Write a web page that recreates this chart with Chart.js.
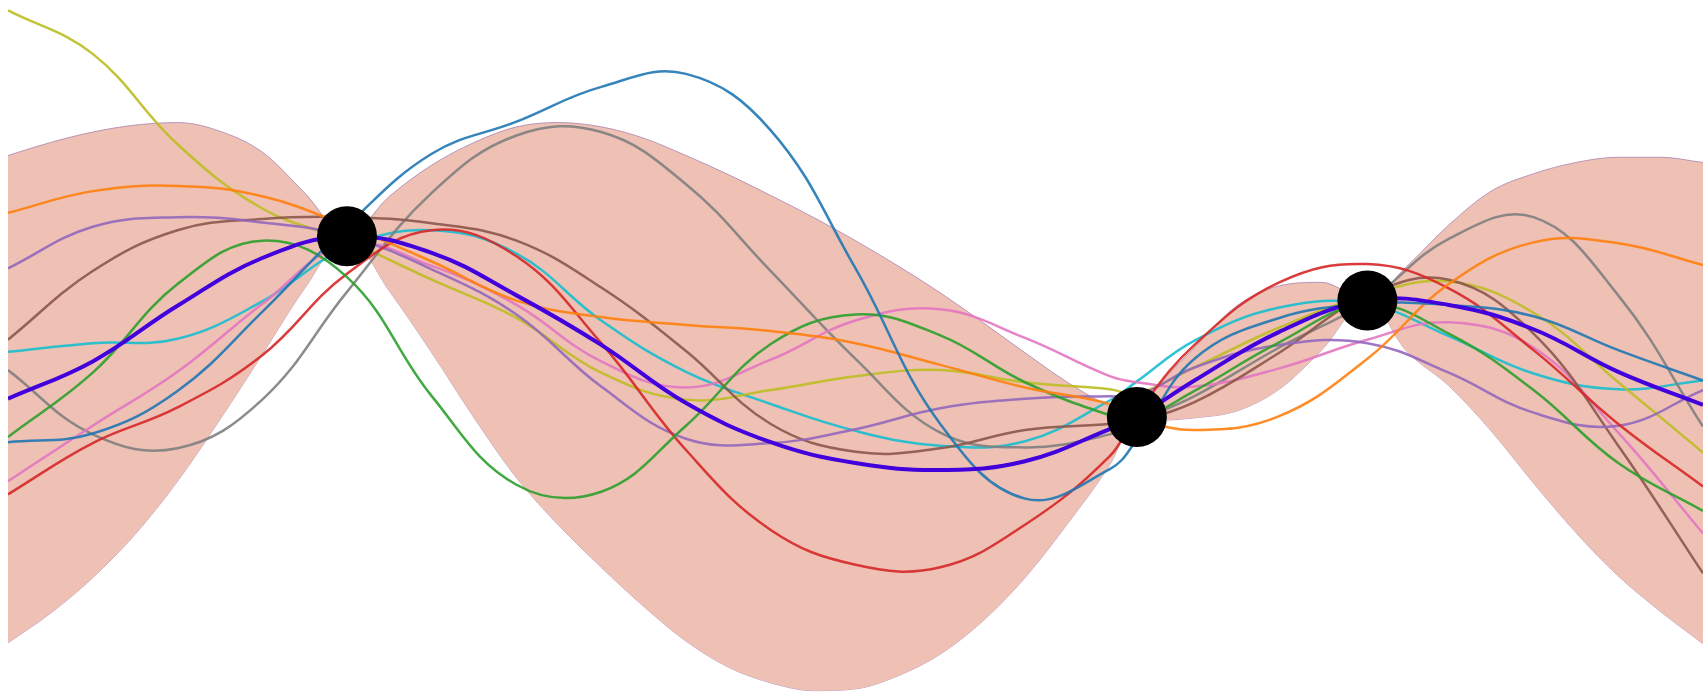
<!DOCTYPE html>
<html>
<head>
<meta charset="utf-8">
<script src="https://cdn.jsdelivr.net/npm/chart.js@4.4.1/dist/chart.umd.min.js"></script>
<style>
  html, body { margin: 0; padding: 0; background: #ffffff; }
  #wrap { width: 1703px; height: 695px; position: relative; }
</style>
</head>
<body>
<div id="wrap"><canvas id="gp"></canvas></div>
<script>
// Input grid of the posterior sample functions and mean
const xs = [-5, -4.5, -4, -3.5, -3, -2.5, -2, -1.5, -1, -0.5, 0, 0.5, 1, 1.5, 1.66, 2, 2.5, 3.02, 3.5, 4, 4.5, 5];

// Finer grid for the confidence band
const bandX = [-5, -4.75, -4.5, -4.25, -4, -3.75, -3.5, -3.25, -3, -2.75, -2.5, -2.25, -2, -1.75, -1.5, -1.25, -1, -0.75, -0.5, -0.25,
               0, 0.25, 0.5, 0.75, 1, 1.25, 1.5, 1.66, 1.75, 2, 2.25, 2.5, 2.75, 3.02, 3.25, 3.5, 3.75, 4, 4.25, 4.5, 4.75, 5];

// Observed training points
const obsX = [-3.0, 1.66, 3.02];
const obsY = [1.28, -0.80, 0.54];

// Posterior mean
const meanY  = [-0.59, -0.16, 0.48, 1.03, 1.28, 1.09, 0.60, 0.03, -0.64, -1.09, -1.33, -1.41, -1.31, -0.94, -0.80, -0.38, 0.18, 0.54, 0.49, 0.21, -0.28, -0.66];

// Confidence band edges
const upperY = [2.21, 2.36, 2.48, 2.56, 2.59, 2.49, 2.25, 1.78, 1.28, 1.74, 2.10, 2.36, 2.54, 2.59, 2.54, 2.41, 2.21, 1.99, 1.75, 1.50,
                1.23, 0.94, 0.63, 0.29, -0.06, -0.40, -0.68, -0.80, -0.53, 0.00, 0.48, 0.71, 0.75, 0.54, 0.93, 1.41, 1.80, 2.00, 2.13, 2.19, 2.19, 2.13];
const lowerY = [-3.40, -3.06, -2.65, -2.15, -1.54, -0.83, -0.08, 0.68, 1.28, 0.65, -0.06, -0.81, -1.50, -2.05, -2.53, -2.98, -3.38, -3.68, -3.86, -3.95,
                -3.93, -3.78, -3.53, -3.15, -2.65, -2.03, -1.35, -0.80, -0.84, -0.81, -0.73, -0.48, -0.03, 0.54, -0.04, -0.44, -0.96, -1.56, -2.13, -2.63, -3.04, -3.41];

// Posterior sample functions
const drawBlue   = [-1.09, -0.99, -0.50, 0.41, 1.40, 2.23, 2.60, 3.00, 3.15, 2.50, 0.91, -0.88, -1.74, -1.40, -1.06, -0.13, 0.34, 0.50, 0.49, 0.36, -0.03, -0.38];
const drawOrange = [1.55, 1.80, 1.86, 1.74, 1.40, 0.99, 0.54, 0.35, 0.26, 0.19, 0.05, -0.20, -0.46, -0.65, -0.81, -0.95, -0.79, -0.13, 0.73, 1.21, 1.20, 0.95];
const drawGreen  = [-1.03, -0.29, 0.73, 1.23, 0.81, -0.56, -1.58, -1.66, -0.90, 0.04, 0.38, 0.14, -0.40, -0.78, -0.83, -0.50, 0.06, 0.50, 0.16, -0.49, -1.33, -1.88];
const drawRed    = [-1.69, -1.10, -0.69, -0.09, 0.85, 1.35, 1.05, 0.05, -1.18, -2.10, -2.50, -2.53, -2.04, -1.25, -0.76, 0.03, 0.75, 0.96, 0.68, -0.03, -0.88, -1.60];
const drawPurple = [0.91, 1.39, 1.50, 1.44, 1.28, 0.90, 0.38, -0.45, -1.05, -1.10, -0.94, -0.70, -0.59, -0.56, -0.56, -0.23, 0.03, 0.05, -0.29, -0.75, -0.90, -0.49];
const drawBrown  = [0.09, 0.88, 1.35, 1.48, 1.50, 1.43, 1.23, 0.69, -0.04, -0.88, -1.20, -1.16, -0.95, -0.88, -0.84, -0.63, -0.06, 0.60, 0.78, 0.16, -1.13, -2.60];
const drawPink   = [-1.54, -0.90, -0.28, 0.50, 1.19, 0.94, 0.49, -0.16, -0.46, -0.14, 0.31, 0.44, 0.11, -0.33, -0.40, -0.45, -0.24, 0.09, 0.29, 0.00, -0.98, -2.14];
const drawGray   = [-0.26, -1.00, -1.16, -0.60, 0.64, 1.78, 2.44, 2.48, 1.88, 0.88, -0.13, -0.98, -1.15, -1.00, -0.85, -0.56, 0.00, 0.53, 1.25, 1.50, 0.60, -0.91];
const drawOlive  = [3.88, 3.38, 2.34, 1.60, 1.23, 0.78, 0.34, -0.29, -0.60, -0.49, -0.33, -0.26, -0.40, -0.48, -0.53, -0.23, 0.23, 0.60, 0.76, 0.40, -0.40, -1.21];
const drawCyan   = [-0.05, 0.05, 0.10, 0.53, 1.15, 1.35, 1.08, 0.31, -0.28, -0.65, -0.96, -1.13, -1.08, -0.61, -0.39, 0.08, 0.46, 0.50, 0.13, -0.30, -0.48, -0.38];

const draws = [drawBlue, drawOrange, drawGreen, drawRed, drawPurple, drawBrown, drawPink, drawGray, drawOlive, drawCyan];
const drawColors = [
  'rgba(31,119,180,0.9)', 'rgba(255,127,14,0.9)', 'rgba(44,160,44,0.9)', 'rgba(214,39,40,0.9)',
  'rgba(148,103,189,0.9)', 'rgba(140,86,75,0.9)', 'rgba(227,119,194,0.9)', 'rgba(127,127,127,0.9)',
  'rgba(188,189,34,0.9)', 'rgba(23,190,207,0.9)'
];

const pts = (gx, ys) => gx.map((x, i) => ({ x: x, y: ys[i] }));

const curve = { pointRadius: 0, tension: 0.4, fill: false };

const datasets = [];

// training observations, on top
datasets.push({
  type: 'scatter',
  data: pts(obsX, obsY),
  backgroundColor: '#000000',
  borderWidth: 0,
  pointRadius: 30,
  pointHoverRadius: 30,
  order: 0
});

// posterior mean
datasets.push(Object.assign({}, curve, {
  data: pts(xs, meanY),
  borderColor: '#4200dc',
  borderWidth: 4,
  order: 1
}));

// sample functions
draws.forEach((d, k) => {
  datasets.push(Object.assign({}, curve, {
    data: pts(xs, d),
    borderColor: drawColors[k],
    borderWidth: 2.5,
    order: 2
  }));
});

// confidence band: upper edge filled down to the lower edge (next dataset)
const bandStyle = {
  pointRadius: 0,
  cubicInterpolationMode: 'monotone',
  borderColor: 'rgba(165,125,175,0.75)',
  borderWidth: 1,
  order: 3
};
datasets.push(Object.assign({}, bandStyle, {
  data: pts(bandX, upperY),
  backgroundColor: 'rgb(238,193,180)',
  fill: '+1'
}));
datasets.push(Object.assign({}, bandStyle, {
  data: pts(bandX, lowerY),
  fill: false
}));

new Chart(document.getElementById('gp'), {
  type: 'line',
  data: { datasets: datasets },
  options: {
    responsive: true,
    maintainAspectRatio: false,
    animation: false,
    layout: { autoPadding: false, padding: { left: 8, right: 0, top: 0, bottom: 0 } },
    plugins: { legend: { display: false }, tooltip: { enabled: false } },
    scales: {
      x: { type: 'linear', min: -5, max: 5, display: false },
      y: { type: 'linear', min: -4, max: 4, display: false }
    }
  }
});
</script>
</body>
</html>
